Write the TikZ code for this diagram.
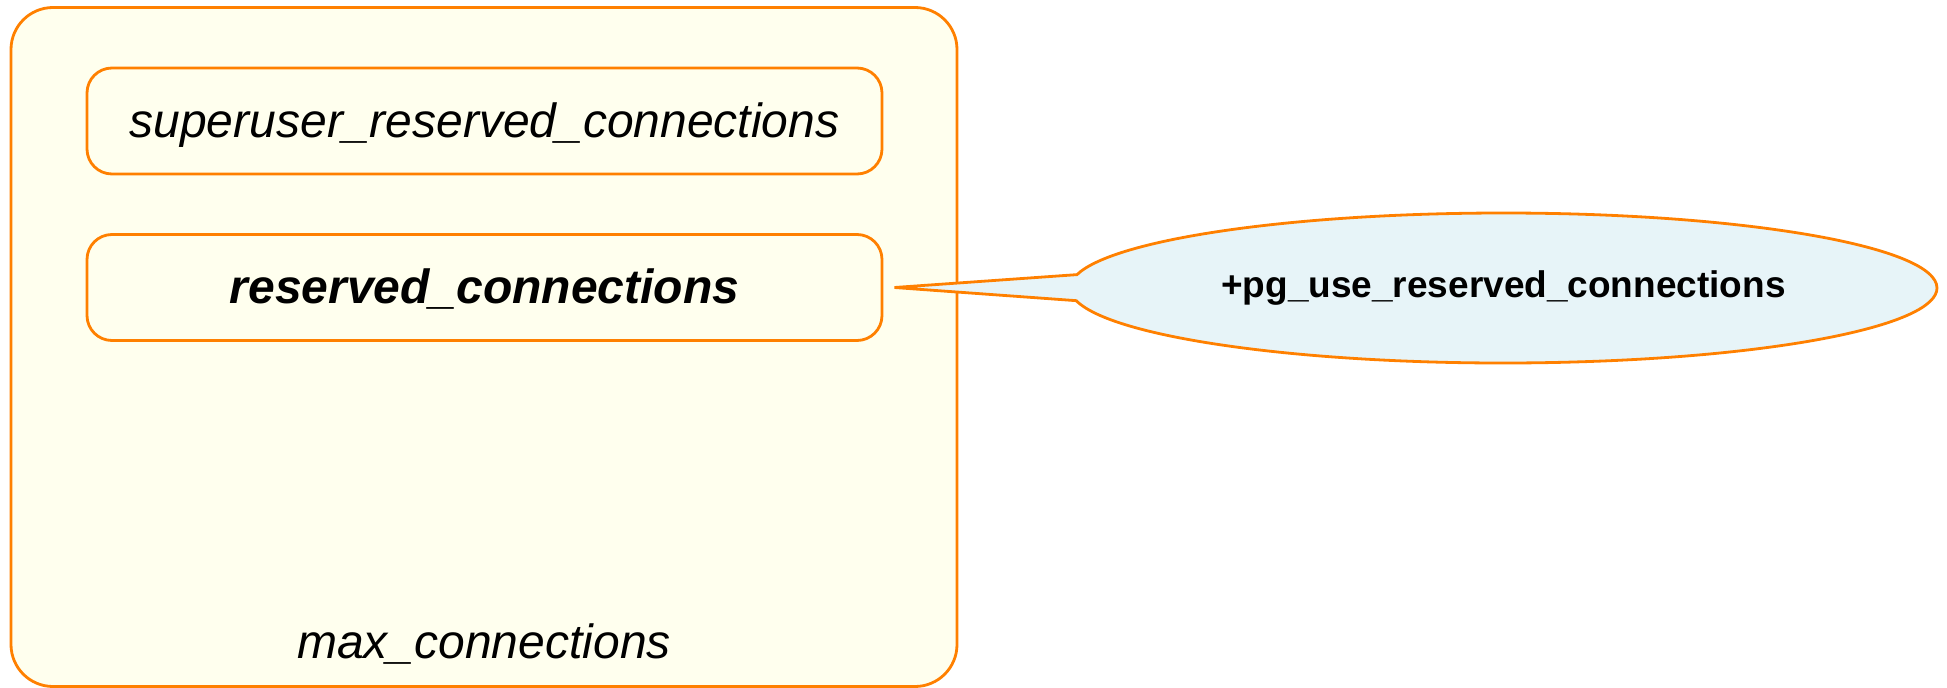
\documentclass[tikz,border=0pt]{standalone}
\usepackage{fontspec}
\setmainfont{Liberation Sans}
\usetikzlibrary{shapes.callouts}
\definecolor{lineorange}{HTML}{FF8000}
\definecolor{boxfill}{HTML}{FFFFEE}
\definecolor{notefill}{HTML}{E7F4F8}
\begin{document}
\begin{tikzpicture}[x=1pt,y=1pt,
  outerbox/.style={draw=lineorange, line width=2.8pt, fill=boxfill, rounded corners=42pt, minimum width=946pt, minimum height=679pt},
  parambox/.style={draw=lineorange, line width=2.8pt, fill=boxfill, rounded corners=25pt, minimum width=795pt, minimum height=106pt, text height=42pt, text depth=10pt, font=\fontsize{48}{58}\selectfont\itshape},
  note/.style={ellipse callout, draw=lineorange, line width=2.8pt, fill=notefill, minimum width=867pt, minimum height=150pt, callout pointer arc=20, font=\fontsize{37}{44}\selectfont\bfseries}]
\useasboundingbox (0,0) rectangle (1947,-688);
\node[outerbox] (max) at (484,-347) {};
\node[anchor=base, font=\fontsize{48}{58}\selectfont\itshape] (maxlbl) at (484,-658) {max\_connections};
\node[parambox] (su) at (484.5,-121) {superuser\_reserved\_connections};
\node[parambox, font=\fontsize{48}{58}\selectfont\bfseries\itshape] (res) at (484.5,-287.5) {reserved\_connections};
\coordinate (tip) at ([xshift=11pt]res.east);
\node[note, callout absolute pointer={(tip)}] (pg) at (1503.5,-288) {+pg\_use\_reserved\_connections};
\end{tikzpicture}
\end{document}
